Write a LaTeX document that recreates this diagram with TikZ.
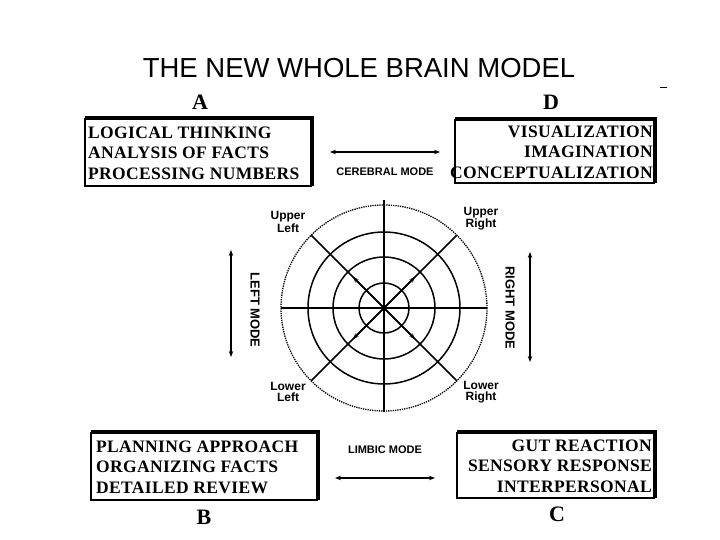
\documentclass[tikz,border=0pt]{standalone}
\usepackage{fontspec}
\setmainfont{Liberation Serif}
\newfontfamily\sans{Liberation Sans}
\newfontfamily\boxfont[LetterSpace=2]{Liberation Serif}
\usetikzlibrary{arrows.meta}
\begin{document}
\begin{tikzpicture}[x=1pt,y=-1pt,
  btxt/.style={font=\boxfont\bfseries\fontsize{17.5}{20.5}\selectfont,inner sep=0pt},
  lbl/.style={font=\sans\bfseries\fontsize{12}{11}\selectfont,align=center,inner sep=0pt},
  mode/.style={font=\sans\bfseries\fontsize{11}{10}\selectfont,inner sep=0pt},
  vmode/.style={font=\sans\bfseries\fontsize{13}{12}\selectfont,inner sep=0pt,rotate=-90},
  letter/.style={font=\bfseries\fontsize{22}{22}\selectfont,inner sep=0pt},
  shad/.style={line width=4pt},
  dbl/.style={line width=1.6pt,{Stealth[length=6pt]}-{Stealth[length=6pt]}}]
\useasboundingbox (0,0) rectangle (720,540);
\node[font=\sans\fontsize{27.5}{27}\selectfont] (title) at (359,68) {THE NEW WHOLE BRAIN MODEL};
\draw[line width=1pt] (660,88) -- (667,88);
% Boxes
\draw[line width=1.5pt] (85,119) rectangle (311,186);
\draw[shad] (85,118) -- (312,118) -- (312,186);
\node[btxt,align=left,anchor=west] (a) at (88,153) {LOGICAL THINKING\\ANALYSIS OF FACTS\\PROCESSING NUMBERS};
\draw[line width=1.5pt] (455,120) rectangle (654,183);
\draw[shad] (455,119) -- (655,119) -- (655,183);
\node[btxt,align=right,anchor=east] (d) at (653,152) {VISUALIZATION\\IMAGINATION\\CONCEPTUALIZATION};
\draw[line width=1.5pt] (91,433) rectangle (317,500);
\draw[shad] (91,432) -- (318,432) -- (318,500);
\node[btxt,align=left,anchor=west] (b) at (96,467) {PLANNING APPROACH\\ORGANIZING FACTS\\DETAILED REVIEW};
\draw[line width=1.5pt] (457,433) rectangle (654,498);
\draw[shad] (457,432) -- (655,432) -- (655,498);
\node[btxt,align=right,anchor=east] (c) at (652,466) {GUT REACTION\\SENSORY RESPONSE\\INTERPERSONAL};
\node[letter] (la) at (200,102) {A};
\node[letter] (ld) at (551,102) {D};
\node[letter] (lb) at (204,517) {B};
\node[letter] (lc) at (557,514) {C};
% modes
\coordinate (c1) at (330,152); \coordinate (c2) at (440,152);
\draw[dbl] (c1) -- (c2);
\node[mode] (cm) at (385,172) {CEREBRAL MODE};
\node[mode] (lm) at (385,450) {LIMBIC MODE};
\coordinate (l1) at (335,478); \coordinate (l2) at (435,478);
\draw[dbl] (l1) -- (l2);
\coordinate (v1) at (231,250); \coordinate (v2) at (231,357);
\draw[dbl] (v1) -- (v2);
\node[vmode] (leftm) at (255,310) {LEFT MODE};
\coordinate (r1) at (530,252); \coordinate (r2) at (530,362);
\draw[dbl] (r1) -- (r2);
\node[vmode] (rightm) at (510,308) {RIGHT MODE};
% circle
\coordinate (o) at (384,308);
\draw[line width=1.3pt,densely dotted] (o) circle (103);
\foreach \r in {76,51,25} \draw[line width=1.5pt] (o) circle (\r);
\draw[line width=1.5pt] (384,200) -- (384,412);
\draw[line width=1.5pt] (281,308) -- (487,308);
\draw[line width=1.5pt] (o) ++(135:103) -- ++(-45:206);
\draw[line width=1.5pt] (o) ++(45:103) -- ++(225:206);
\foreach \a in {45,135,225,315}
  \draw[line width=1.5pt,-{Stealth[length=6pt]}] (o) -- ++(\a:-1*44);
\node[lbl] (ul) at (288,222) {Upper\\Left};
\node[lbl] (ur) at (481,219) {Upper\\Right};
\node[lbl] (ll) at (288,392) {Lower\\Left};
\node[lbl] (lr) at (481,392) {Lower\\Right};
\end{tikzpicture}
\end{document}
